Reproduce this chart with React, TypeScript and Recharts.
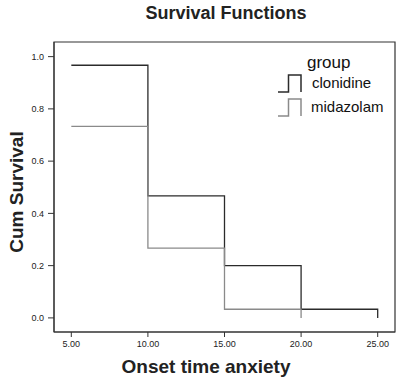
import React from 'react';
import { LineChart, Line, XAxis, YAxis, ReferenceArea } from 'recharts';

// survival estimates
const clonidineTimes = [5, 10, 15, 20, 25, 25];
const clonidineSurvival = [0.967, 0.467, 0.2, 0.033, 0.033, 0];
const midazolamTimes = [5, 10, 15, 20, 20];
const midazolamSurvival = [0.733, 0.267, 0.033, 0.033, 0];
const xTicks = [5, 10, 15, 20, 25];
const yTicks = [0, 0.2, 0.4, 0.6, 0.8, 1.0];

const toPoints = (times: number[], surv: number[]) =>
  times.map((t, i) => ({ t, s: surv[i] }));

const clonidineData = toPoints(clonidineTimes, clonidineSurvival);
const midazolamData = toPoints(midazolamTimes, midazolamSurvival);

const FONT = '"Liberation Sans", Arial, sans-serif';
const X_DOMAIN: [number, number] = [3.87, 26.13];
const Y_DOMAIN: [number, number] = [-0.054, 1.056];

// legend drawn in an overlay so it doesn't eat plot space
const GroupLegend = () => (
  <g transform="translate(270 50)">
    <text x={37} y={18} fontSize={17} fontFamily={FONT} fill="#111">group</text>
    <path d="M8 42 H18.5 V25 H31 V42" fill="none" stroke="#2b2b2b" strokeWidth={1.5} />
    <text x={42} y={38} fontSize={15} fontFamily={FONT} fill="#111">clonidine</text>
    <path d="M8 66 H18.5 V49 H31 V66" fill="none" stroke="#8a8a8a" strokeWidth={1.5} />
    <text x={41} y={62} fontSize={15} fontFamily={FONT} fill="#111">midazolam</text>
  </g>
);

const App: React.FC = () => {
  return (
    <div style={{ position: 'absolute', left: 0, top: 0, width: 400, height: 381, background: '#fff' }}>
      <LineChart width={400} height={381} margin={{ top: 42, right: 5, left: 0, bottom: 0 }}>
        <XAxis
          type="number"
          dataKey="t"
          domain={X_DOMAIN}
          ticks={xTicks}
          allowDataOverflow
          height={49}
          tickSize={5}
          tickMargin={4}
          stroke="#333"
          tick={{ fontSize: 9, fill: '#222', fontFamily: FONT }}
          tickFormatter={(v: number) => v.toFixed(2)}
          label={{
            content: () => (
              <text x={206} y={373} textAnchor="middle" fontSize={19} fontWeight="bold" fontFamily={FONT} fill="#222">
                Onset time anxiety
              </text>
            ),
          }}
        />
        <YAxis
          type="number"
          domain={Y_DOMAIN}
          ticks={yTicks}
          allowDataOverflow
          width={54}
          tickSize={6}
          tickMargin={4}
          stroke="#333"
          tick={{ fontSize: 9, fill: '#222', fontFamily: FONT }}
          tickFormatter={(v: number) => v.toFixed(1)}
          label={{
            content: () => (
              <text
                x={23}
                y={192}
                transform="rotate(-90 23 192)"
                textAnchor="middle"
                fontSize={19}
                fontWeight="bold"
                fontFamily={FONT}
                fill="#222"
              >
                Cum Survival
              </text>
            ),
          }}
        />
        <ReferenceArea
          x1={X_DOMAIN[0]}
          x2={X_DOMAIN[1]}
          y1={Y_DOMAIN[0]}
          y2={Y_DOMAIN[1]}
          fill="none"
          stroke="#333"
          strokeWidth={1.2}
          fillOpacity={0}
        />
        <Line
          data={clonidineData}
          dataKey="s"
          name="clonidine"
          type="stepAfter"
          stroke="#2b2b2b"
          strokeWidth={1.3}
          dot={false}
          isAnimationActive={false}
        />
        <Line
          data={midazolamData}
          dataKey="s"
          name="midazolam"
          type="stepAfter"
          stroke="#8a8a8a"
          strokeWidth={1.3}
          dot={false}
          isAnimationActive={false}
        />
      </LineChart>
      <svg width={400} height={381} style={{ position: 'absolute', left: 0, top: 0, pointerEvents: 'none' }}>
        <text x={226} y={19} textAnchor="middle" fontSize={18} fontWeight="bold" fontFamily={FONT} fill="#222">
          Survival Functions
        </text>
        <GroupLegend />
      </svg>
    </div>
  );
};

export default App;
